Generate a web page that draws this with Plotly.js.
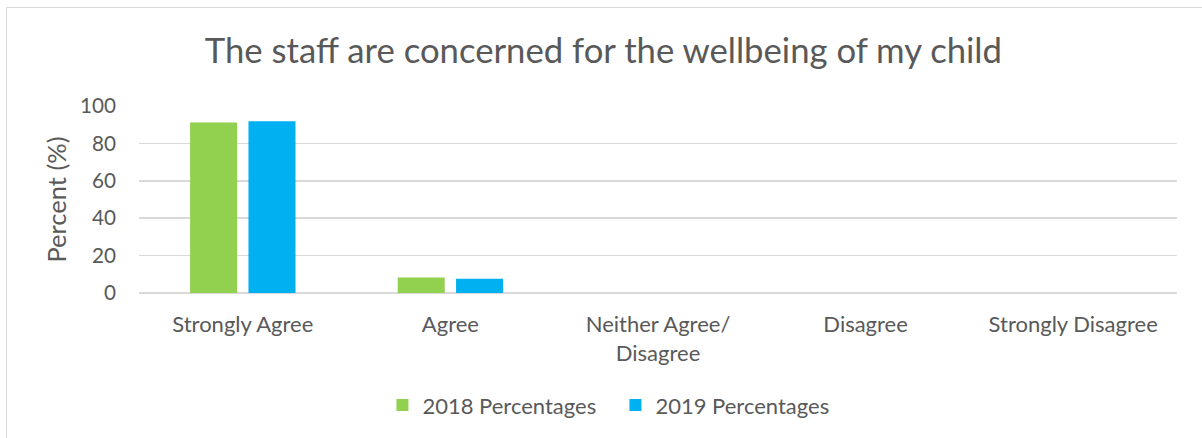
<!DOCTYPE html>
<html><head><meta charset="utf-8">
<script src="https://cdn.plot.ly/plotly-3.0.1.min.js"></script>
<style>
html,body{margin:0;padding:0;background:#fff;overflow:hidden;}
#frame{position:absolute;left:6px;top:7px;width:1400px;height:600px;border:1px solid #d9d9d9;}
#chart{position:absolute;left:0;top:0;width:1202px;height:438px;}
</style></head>
<body>
<div id="frame"></div>
<div id="chart"></div>
<script>
const categories = ["Strongly Agree", "Agree", "Neither Agree/<br>Disagree", "Disagree", "Strongly Disagree"];
const series2018 = [91.2, 8.3, 0, 0, 0];
const series2019 = [91.9, 7.6, 0, 0, 0];
const seriesNames = ["2018 Percentages", "2019 Percentages"];
const yTicks = [0, 20, 40, 60, 80, 100];

const font = "Lato, 'Open Sans', sans-serif";
const txt = "#595959";
const traces = [
  {type:"bar", name:seriesNames[0], x:categories, y:series2018, marker:{color:"#92D050"}},
  {type:"bar", name:seriesNames[1], x:categories, y:series2019, marker:{color:"#00B0F0"}}
];
const layout = {
  width:1202, height:438,
  paper_bgcolor:"rgba(0,0,0,0)", plot_bgcolor:"rgba(0,0,0,0)",
  margin:{l:139, r:25, t:106, b:144.5, pad:0},
  font:{family:font, color:txt},
  title:{text:"The staff are concerned for the wellbeing of my child", font:{size:34.7, color:txt, family:font}, x:0.502, xanchor:"center", y:0.885, yanchor:"middle"},
  barmode:"group", bargap:0.438, bargroupgap:0.194,
  xaxis:{showgrid:false, showline:false, zeroline:false, ticks:"", tickfont:{size:22, color:txt}, ticklabelstandoff:16},
  yaxis:{range:[0,100], tickvals:yTicks, showgrid:true, gridcolor:"#d9d9d9", gridwidth:1.5, zeroline:true, zerolinecolor:"#d9d9d9", zerolinewidth:1.5, showline:false, ticks:"", tickfont:{size:20.7, color:txt}, ticklabelstandoff:22,
    title:{text:"Percent (%)", font:{size:25.5, color:txt}, standoff:6}},
  legend:{orientation:"h", x:0.459, xanchor:"center", y:-0.6, yanchor:"middle", font:{size:22, color:txt}, traceorder:"normal", itemwidth:20, entrywidth:188},
  showlegend:true
};
Plotly.newPlot("chart", traces, layout, {displayModeBar:false, staticPlot:true});
</script>
</body></html>
